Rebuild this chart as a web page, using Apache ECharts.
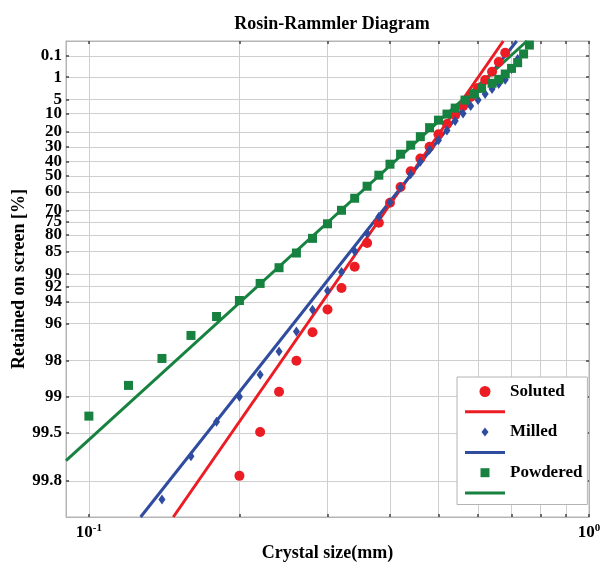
<!DOCTYPE html>
<html>
<head>
<meta charset="utf-8">
<script src="https://cdn.jsdelivr.net/npm/echarts@6/dist/echarts.min.js"></script>
<style>
  html, body { margin: 0; padding: 0; background: #fff; }
  #chart { width: 601px; height: 563px; }
</style>
</head>
<body>
<div id="chart"></div>
<script>
// crystal size (mm) and % retained on screen
var solutedSize = [0.20, 0.22, 0.24, 0.26, 0.28, 0.30, 0.32, 0.34, 0.36, 0.38, 0.40, 0.42, 0.44,
  0.46, 0.48, 0.50, 0.52, 0.54, 0.56, 0.58, 0.60, 0.62, 0.64, 0.66, 0.68];
var solutedRetained = [99.78, 99.49, 98.90, 98.02, 96.60, 94.79, 92.23, 88.55, 82.59, 75.43, 66.10, 57.06, 46.82,
  37.97, 29.70, 21.37, 15.38, 10.82, 7.11, 4.31, 2.38, 1.28, 0.60, 0.21, 0.064];

var milledSize = [0.14, 0.16, 0.18, 0.20, 0.22, 0.24, 0.26, 0.28, 0.30, 0.32, 0.34, 0.36, 0.38, 0.40, 0.42,
  0.44, 0.46, 0.48, 0.50, 0.52, 0.54, 0.56, 0.58, 0.60, 0.62, 0.64, 0.66, 0.68, 0.70, 0.72];
var milledRetained = [99.86, 99.68, 99.38, 99.00, 98.48, 97.64, 96.55, 94.82, 92.62, 89.62, 84.95, 79.42, 72.88, 65.83, 57.45,
  48.87, 40.24, 31.92, 25.26, 19.17, 13.78, 10.14, 7.11, 5.14, 3.58, 2.56, 1.77, 1.25, 0.46, 0.147];

var powderedSize = [0.10, 0.12, 0.14, 0.16, 0.18, 0.20, 0.22, 0.24, 0.26, 0.28, 0.30, 0.32, 0.34, 0.36, 0.38,
  0.40, 0.42, 0.44, 0.46, 0.48, 0.50, 0.52, 0.54, 0.565, 0.59, 0.61, 0.64, 0.66, 0.68, 0.70, 0.72, 0.74, 0.76];
var powderedRetained = [99.31, 98.76, 97.93, 96.80, 95.43, 93.84, 91.56, 88.76, 85.39, 81.12, 75.83, 69.87, 63.66, 56.64, 49.53,
  42.0, 34.95, 28.65, 22.97, 17.40, 13.27, 10.35, 7.85, 5.14, 3.58, 2.44, 1.67, 1.21, 0.75, 0.43, 0.23, 0.076, 0.020];

// fitted Rosin-Rammler lines, ends as [size, retained]
var solutedFit = [[0.1475, 99.9], [0.674, 0.01]];
var milledFit = [[0.1269, 99.9], [0.717, 0.01]];
var powderedFit = [[0.09, 99.706], [0.7516, 0.01]];

var yTickLabels = ['0.1', '1', '5', '10', '20', '30', '40', '50', '60', '70', '75', '80', '85',
  '90', '92', '94', '96', '98', '99', '99.5', '99.8'];
var xGridSizes = [0.1, 0.2, 0.3, 0.4, 0.5, 0.6, 0.7, 0.8, 0.9, 1.0];
var xLabelSizes = [0.1, 1];
var sizeRange = [0.09, 1];
var retainedRange = [99.9, 0.01];

var FONT = 'Liberation Serif';
var RED = '#ec1c24', BLUE = '#2f4c9f', GREEN = '#17823f';

// Rosin-Rammler scales: log(size) against ln(ln(100/R))
function xt(d) { return Math.log10(d); }
function yt(r) { return Math.log(Math.log(100 / r)); }
function pts(sizes, vals) {
  return sizes.map(function (d, i) { return [xt(d), yt(vals[i])]; });
}
function fitPts(line) {
  return line.map(function (p) { return [xt(p[0]), yt(p[1])]; });
}

var yTickVals = yTickLabels.map(function (s) { return yt(parseFloat(s)); });
var xGridVals = xGridSizes.map(xt);
var xLabelVals = xLabelSizes.map(xt);

function yLabel(v) {
  var best = 0;
  for (var i = 1; i < yTickVals.length; i++) {
    if (Math.abs(yTickVals[i] - v) < Math.abs(yTickVals[best] - v)) best = i;
  }
  return yTickLabels[best];
}

var tick = { show: true, inside: true, length: 3, lineStyle: { color: '#444', width: 1.5 } };
var frameLine = { show: true, onZero: false, lineStyle: { color: '#b4b4b4', width: 1 } };

var chart = echarts.init(document.getElementById('chart'), null, { renderer: 'canvas' });
chart.setOption({
  animation: false,
  backgroundColor: '#fff',
  title: {
    text: 'Rosin-Rammler Diagram',
    left: 327, top: 10, textAlign: 'center',
    textStyle: { fontFamily: FONT, fontWeight: 'bold', fontSize: 18, color: '#000' }
  },
  grid: {
    left: 66, right: 12, top: 41, bottom: 46, containLabel: false, outerBoundsMode: 'none',
    show: true, borderColor: '#b4b4b4', borderWidth: 1
  },
  xAxis: [{
    type: 'value',
    min: xt(sizeRange[0]), max: xt(sizeRange[1]),
    name: 'Crystal size(mm)', nameLocation: 'middle', nameGap: 27, nameMoveOverlap: false,
    nameTextStyle: { fontFamily: FONT, fontWeight: 'bold', fontSize: 18, color: '#000' },
    axisLine: frameLine,
    axisTick: Object.assign({ customValues: xGridVals }, tick),
    splitLine: { show: true, lineStyle: { color: '#cfcfcf', width: 1 } },
    axisLabel: {
      customValues: xLabelVals, margin: 6,
      formatter: function (v) { return '{b|10}{s|' + Math.round(v) + '}'; },
      rich: {
        b: { fontFamily: FONT, fontWeight: 'bold', fontSize: 17, color: '#000' },
        s: { fontFamily: FONT, fontWeight: 'bold', fontSize: 11, color: '#000', padding: [0, 0, 9, 0] }
      }
    }
  }, {
    type: 'value', position: 'top',
    min: xt(sizeRange[0]), max: xt(sizeRange[1]),
    axisLine: frameLine, axisLabel: { show: false }, splitLine: { show: false },
    axisTick: Object.assign({ customValues: xGridVals }, tick)
  }],
  yAxis: [{
    type: 'value', position: 'left',
    min: yt(retainedRange[0]), max: yt(retainedRange[1]),
    name: 'Retained on screen [%]', nameLocation: 'middle', nameGap: 38, nameRotate: 90,
    nameMoveOverlap: false,
    nameTextStyle: { fontFamily: FONT, fontWeight: 'bold', fontSize: 18, color: '#000' },
    axisLine: frameLine,
    axisTick: Object.assign({ customValues: yTickVals }, tick),
    splitLine: { show: true, lineStyle: { color: '#cfcfcf', width: 1 } },
    axisLabel: {
      customValues: yTickVals, margin: 4, formatter: yLabel,
      fontFamily: FONT, fontWeight: 'bold', fontSize: 17, color: '#000'
    }
  }, {
    type: 'value', position: 'right',
    min: yt(retainedRange[0]), max: yt(retainedRange[1]),
    axisLine: frameLine, axisLabel: { show: false }, splitLine: { show: false },
    axisTick: Object.assign({ customValues: yTickVals }, tick)
  }],
  legend: {
    orient: 'vertical', left: 457, top: 377,
    padding: [6, 5, 10, 8],
    backgroundColor: '#fff', borderColor: '#b4b4b4', borderWidth: 1, borderRadius: 0,
    itemWidth: 40, itemHeight: 11, itemGap: 10.3,
    selectedMode: false,
    textStyle: { fontFamily: FONT, fontWeight: 'bold', fontSize: 17, color: '#000', lineHeight: 11 },
    formatter: function (name) { return name.indexOf(' fit') >= 0 ? '' : name; },
    data: [
      { name: 'Soluted', icon: 'circle' },
      { name: 'Soluted fit', icon: 'path://M0,0H40V3H0Z' },
      { name: 'Milled', icon: 'path://M0,0M0,11M3.5,1L7,5.5L3.5,10L0,5.5Z' },
      { name: 'Milled fit', icon: 'path://M0,0H40V3H0Z' },
      { name: 'Powdered', icon: 'path://M0,0M11,11M1,1H10V10H1Z' },
      { name: 'Powdered fit', icon: 'path://M0,0H40V3H0Z' }
    ]
  },
  series: [
    { name: 'Soluted fit', type: 'line', data: fitPts(solutedFit), symbol: 'none', z: 2,
      lineStyle: { color: RED, width: 3 }, itemStyle: { color: RED } },
    { name: 'Milled fit', type: 'line', data: fitPts(milledFit), symbol: 'none', z: 2,
      lineStyle: { color: BLUE, width: 3 }, itemStyle: { color: BLUE } },
    { name: 'Powdered fit', type: 'line', data: fitPts(powderedFit), symbol: 'none', z: 2,
      lineStyle: { color: GREEN, width: 3 }, itemStyle: { color: GREEN } },
    { name: 'Soluted', type: 'scatter', data: pts(solutedSize, solutedRetained), z: 3,
      symbol: 'circle', symbolSize: 10, itemStyle: { color: RED, opacity: 1 } },
    { name: 'Milled', type: 'scatter', data: pts(milledSize, milledRetained), z: 3,
      symbol: 'diamond', symbolSize: [7, 10], itemStyle: { color: BLUE, opacity: 1 } },
    { name: 'Powdered', type: 'scatter', data: pts(powderedSize, powderedRetained), z: 3,
      symbol: 'rect', symbolSize: 9, itemStyle: { color: GREEN, opacity: 1 } }
  ]
});
</script>
</body>
</html>
